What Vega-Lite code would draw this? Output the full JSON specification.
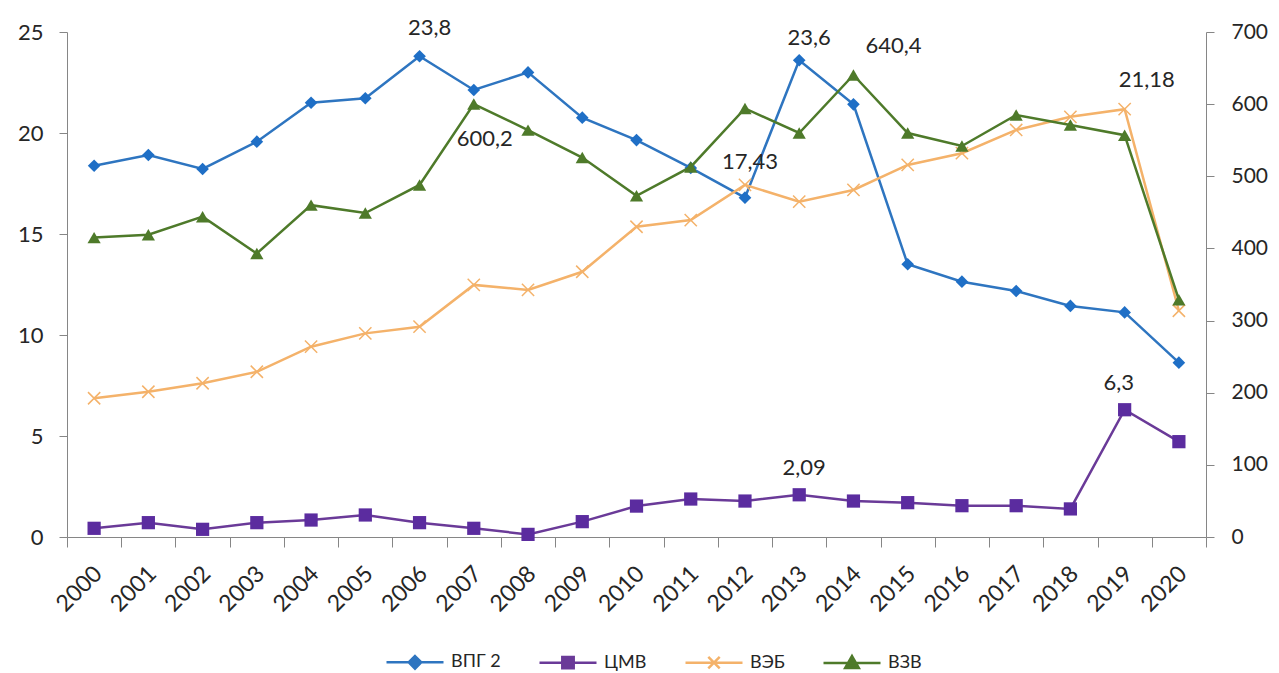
{
"$schema": "https://vega.github.io/schema/vega-lite/v6.json",
"width": 1139, "height": 505,
"autosize": {"type": "none"},
"padding": {"left": 67, "top": 32, "right": 73, "bottom": 136},
"background": "white",
"config": {
  "font": "Lato",
  "view": {"stroke": null},
  "axis": {"grid": false, "domainColor": "#868686", "tickColor": "#868686", "labelColor": "#262626", "labelFont": "Lato", "title": null, "domainWidth": 1, "tickWidth": 1}
},
"datasets": {
 "d": [
  {"year":"2000","s":"ВПГ 2","v":18.38},{"year":"2001","s":"ВПГ 2","v":18.91},{"year":"2002","s":"ВПГ 2","v":18.22},{"year":"2003","s":"ВПГ 2","v":19.57},{"year":"2004","s":"ВПГ 2","v":21.5},{"year":"2005","s":"ВПГ 2","v":21.72},{"year":"2006","s":"ВПГ 2","v":23.8,"lbl":"23,8"},{"year":"2007","s":"ВПГ 2","v":22.13},{"year":"2008","s":"ВПГ 2","v":23.0},{"year":"2009","s":"ВПГ 2","v":20.76},{"year":"2010","s":"ВПГ 2","v":19.65},{"year":"2011","s":"ВПГ 2","v":18.27},{"year":"2012","s":"ВПГ 2","v":16.8},{"year":"2013","s":"ВПГ 2","v":23.6,"lbl":"23,6"},{"year":"2014","s":"ВПГ 2","v":21.42},{"year":"2015","s":"ВПГ 2","v":13.5},{"year":"2016","s":"ВПГ 2","v":12.64},{"year":"2017","s":"ВПГ 2","v":12.18},{"year":"2018","s":"ВПГ 2","v":11.44},{"year":"2019","s":"ВПГ 2","v":11.12},{"year":"2020","s":"ВПГ 2","v":8.63},
  {"year":"2000","s":"ЦМВ","v":0.43},{"year":"2001","s":"ЦМВ","v":0.71},{"year":"2002","s":"ЦМВ","v":0.38},{"year":"2003","s":"ЦМВ","v":0.71},{"year":"2004","s":"ЦМВ","v":0.84},{"year":"2005","s":"ЦМВ","v":1.09},{"year":"2006","s":"ЦМВ","v":0.71},{"year":"2007","s":"ЦМВ","v":0.43},{"year":"2008","s":"ЦМВ","v":0.13},{"year":"2009","s":"ЦМВ","v":0.76},{"year":"2010","s":"ЦМВ","v":1.53},{"year":"2011","s":"ЦМВ","v":1.88},{"year":"2012","s":"ЦМВ","v":1.78},{"year":"2013","s":"ЦМВ","v":2.09,"lbl":"2,09"},{"year":"2014","s":"ЦМВ","v":1.78},{"year":"2015","s":"ЦМВ","v":1.7},{"year":"2016","s":"ЦМВ","v":1.55},{"year":"2017","s":"ЦМВ","v":1.55},{"year":"2018","s":"ЦМВ","v":1.39},{"year":"2019","s":"ЦМВ","v":6.3,"lbl":"6,3"},{"year":"2020","s":"ЦМВ","v":4.72},
  {"year":"2000","s":"ВЭБ","v":6.87},{"year":"2001","s":"ВЭБ","v":7.19},{"year":"2002","s":"ВЭБ","v":7.61},{"year":"2003","s":"ВЭБ","v":8.18},{"year":"2004","s":"ВЭБ","v":9.42},{"year":"2005","s":"ВЭБ","v":10.08},{"year":"2006","s":"ВЭБ","v":10.41},{"year":"2007","s":"ВЭБ","v":12.48},{"year":"2008","s":"ВЭБ","v":12.23},{"year":"2009","s":"ВЭБ","v":13.13},{"year":"2010","s":"ВЭБ","v":15.36},{"year":"2011","s":"ВЭБ","v":15.69},{"year":"2012","s":"ВЭБ","v":17.43,"lbl":"17,43"},{"year":"2013","s":"ВЭБ","v":16.6},{"year":"2014","s":"ВЭБ","v":17.18},{"year":"2015","s":"ВЭБ","v":18.42},{"year":"2016","s":"ВЭБ","v":19.0},{"year":"2017","s":"ВЭБ","v":20.15},{"year":"2018","s":"ВЭБ","v":20.8},{"year":"2019","s":"ВЭБ","v":21.18,"lbl":"21,18"},{"year":"2020","s":"ВЭБ","v":11.2},
  {"year":"2000","s":"ВЗВ","v":415},{"year":"2001","s":"ВЗВ","v":419},{"year":"2002","s":"ВЗВ","v":444},{"year":"2003","s":"ВЗВ","v":393},{"year":"2004","s":"ВЗВ","v":460},{"year":"2005","s":"ВЗВ","v":449},{"year":"2006","s":"ВЗВ","v":488},{"year":"2007","s":"ВЗВ","v":600.2,"lbl":"600,2"},{"year":"2008","s":"ВЗВ","v":564},{"year":"2009","s":"ВЗВ","v":526},{"year":"2010","s":"ВЗВ","v":473},{"year":"2011","s":"ВЗВ","v":513},{"year":"2012","s":"ВЗВ","v":594},{"year":"2013","s":"ВЗВ","v":560},{"year":"2014","s":"ВЗВ","v":640.4,"lbl":"640,4"},{"year":"2015","s":"ВЗВ","v":560},{"year":"2016","s":"ВЗВ","v":542},{"year":"2017","s":"ВЗВ","v":585},{"year":"2018","s":"ВЗВ","v":571},{"year":"2019","s":"ВЗВ","v":557},{"year":"2020","s":"ВЗВ","v":329}
 ]
},
"data": {"name": "d"},
"encoding": {
  "x": {"field": "year", "type": "ordinal", "bandPosition": 0.5,
        "scale": {"type": "band", "paddingInner": 0, "paddingOuter": 0},
        "axis": {"labelAngle": -45, "labelFontSize": 23, "tickSize": 10, "tickBand": "extent", "labelPadding": 15, "labelOffset": -4}}
},
"layer": [
 {
  "transform": [{"filter": "datum.s !== 'ВЗВ'"}],
  "encoding": {"y": {"field": "v", "type": "quantitative", "scale": {"domain": [0, 25], "nice": false},
      "axis": {"orient": "left", "values": [0,5,10,15,20,25], "labelFontSize": 22, "tickSize": 8, "labelPadding": 16}}},
  "layer": [
   {"mark": {"type": "line", "strokeWidth": 2.5},
    "encoding": {"color": {"field": "s", "type": "nominal",
      "scale": {"domain": ["ВПГ 2","ЦМВ","ВЭБ","ВЗВ"], "range": ["#2e75c0","#6a3a98","#f4b26a","#4e7a2a"]},
      "legend": {"orient": "none", "legendX": 318, "legendY": 600, "direction": "horizontal", "title": null,
        "symbolSize": 3249, "symbolStrokeWidth": 2.5, "labelFontSize": 18, "labelFont": "Lato", "labelColor": "#262626",
        "labelOffset": 6, "columnPadding": 33, "symbolType": "M-1,0H1",
        "encode": {"symbols": {"update": {
          "shape": {"signal": "datum.value === 'ВПГ 2' ? 'M-1,0H1M0,-0.22L0.22,0L0,0.22L-0.22,0Z' : datum.value === 'ЦМВ' ? 'M-1,0H1M-0.2,-0.2H0.2V0.2H-0.2Z' : datum.value === 'ВЭБ' ? 'M-1,0H1M-0.2,-0.2L0.2,0.2M-0.2,0.2L0.2,-0.2' : 'M-1,0H1M0,-0.24L0.24,0.18H-0.24Z'"},
          "fill": {"scale": "color", "field": "value"},
          "stroke": {"scale": "color", "field": "value"},
          "opacity": {"value": 1}}}}}}}},
   {"transform": [{"filter": "datum.s === 'ВПГ 2'"}], "mark": {"type": "point", "filled": true, "opacity": 1, "shape": "diamond", "size": 160, "color": "#1f6fc6"}},
   {"transform": [{"filter": "datum.s === 'ЦМВ'"}], "mark": {"type": "point", "filled": true, "opacity": 1, "shape": "square", "size": 175, "color": "#5b2c9f"}},
   {"transform": [{"filter": "datum.s === 'ВЭБ'"}], "mark": {"type": "point", "filled": false, "opacity": 1, "shape": "M-1,-1L1,1M-1,1L1,-1", "size": 150, "strokeWidth": 1.5, "color": "#f4b26a"}},
   {"transform": [{"filter": "datum.lbl === '23,8'"}], "mark": {"type": "text", "fontSize": 22, "color": "#262626", "dx": 10, "dy": -28}, "encoding": {"text": {"field": "lbl"}}},
   {"transform": [{"filter": "datum.lbl === '23,6'"}], "mark": {"type": "text", "fontSize": 22, "color": "#262626", "dx": 10, "dy": -22}, "encoding": {"text": {"field": "lbl"}}},
   {"transform": [{"filter": "datum.lbl === '17,43'"}], "mark": {"type": "text", "fontSize": 22, "color": "#262626", "dx": 5, "dy": -23}, "encoding": {"text": {"field": "lbl"}}},
   {"transform": [{"filter": "datum.lbl === '21,18'"}], "mark": {"type": "text", "fontSize": 22, "color": "#262626", "dx": 22, "dy": -29}, "encoding": {"text": {"field": "lbl"}}},
   {"transform": [{"filter": "datum.lbl === '2,09'"}], "mark": {"type": "text", "fontSize": 22, "color": "#262626", "dx": 5, "dy": -27}, "encoding": {"text": {"field": "lbl"}}},
   {"transform": [{"filter": "datum.lbl === '6,3'"}], "mark": {"type": "text", "fontSize": 22, "color": "#262626", "dx": -6, "dy": -27}, "encoding": {"text": {"field": "lbl"}}}
  ]
 },
 {
  "transform": [{"filter": "datum.s === 'ВЗВ'"}],
  "encoding": {"y": {"field": "v", "type": "quantitative", "scale": {"domain": [0, 700], "nice": false},
      "axis": {"orient": "right", "values": [0,100,200,300,400,500,600,700], "labelFontSize": 21, "tickSize": 8, "labelPadding": 17}}},
  "layer": [
   {"mark": {"type": "line", "strokeWidth": 2.5}, "encoding": {"color": {"field": "s", "type": "nominal"}}},
   {"mark": {"type": "point", "filled": true, "opacity": 1, "shape": "triangle-up", "size": 175, "color": "#4e7a2a"}},
   {"transform": [{"filter": "datum.lbl === '600,2'"}], "mark": {"type": "text", "fontSize": 22, "color": "#262626", "dx": 11, "dy": 35}, "encoding": {"text": {"field": "lbl"}}},
   {"transform": [{"filter": "datum.lbl === '640,4'"}], "mark": {"type": "text", "fontSize": 22, "color": "#262626", "dx": 40, "dy": -29}, "encoding": {"text": {"field": "lbl"}}}
  ]
 }
],
"resolve": {"scale": {"y": "independent"}}
}
